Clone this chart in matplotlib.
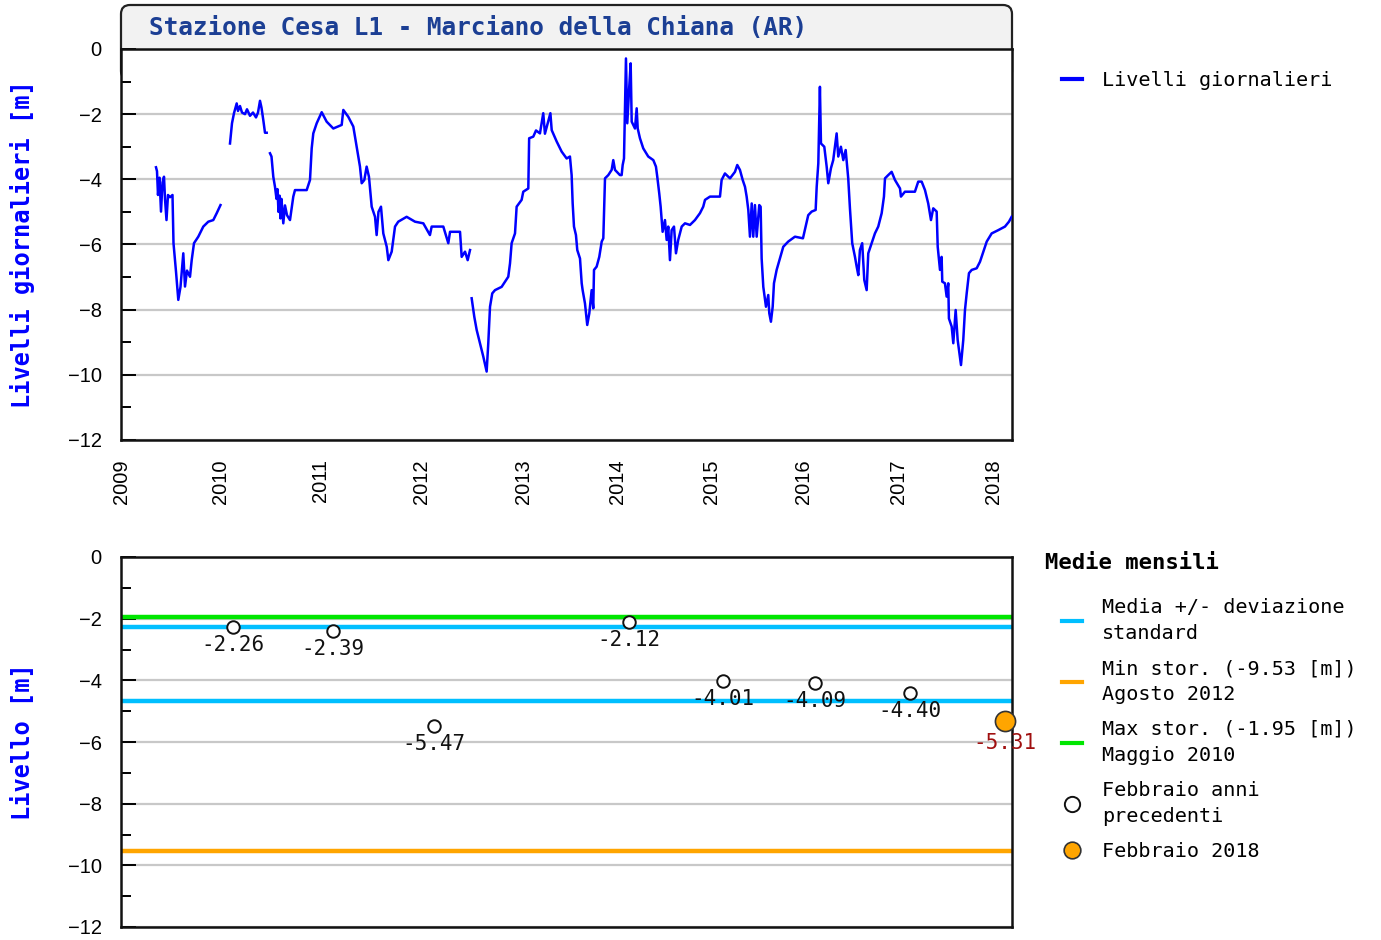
import numpy as np
import matplotlib
matplotlib.use("Agg")
import matplotlib.pyplot as plt
from matplotlib.patches import FancyBboxPatch
from matplotlib.lines import Line2D
from matplotlib.ticker import MultipleLocator
from matplotlib.transforms import IdentityTransform

MONO = "DejaVu Sans Mono"
SANS = "Liberation Sans"

TITLE = "Stazione Cesa L1 - Marciano della Chiana (AR)"

# daily levels (fractional year, metres), NaN = gap in the record
DAY_YEAR = [
    2009.350, 2009.360, 2009.370, 2009.385, 2009.400, 2009.415, 2009.430, 2009.440,
    2009.455, 2009.470, 2009.490, 2009.515, 2009.525, 2009.550, 2009.573, 2009.595,
    2009.623, 2009.640, 2009.660, 2009.690, 2009.707, 2009.730, 2009.773, 2009.823,
    2009.873, 2009.923, 2009.957, 2009.995,
    np.nan,
    2010.090, 2010.110, 2010.130, 2010.157, 2010.170, 2010.190, 2010.210, 2010.240,
    2010.260, 2010.290, 2010.320, 2010.350, 2010.370, 2010.390, 2010.405, 2010.423,
    2010.440, 2010.457,
    np.nan,
    2010.490, 2010.505, 2010.523, 2010.540, 2010.555, 2010.565, 2010.575, 2010.585,
    2010.595, 2010.605, 2010.623, 2010.640, 2010.660, 2010.690, 2010.723, 2010.740,
    2010.857, 2010.890, 2010.907, 2010.923, 2010.957, 2011.007, 2011.056, 2011.122,
    2011.205, 2011.221, 2011.270, 2011.320, 2011.369, 2011.386, 2011.403, 2011.429,
    2011.452, 2011.475, 2011.502, 2011.535, 2011.551, 2011.569, 2011.594, 2011.617,
    2011.651, 2011.667, 2011.700, 2011.733, 2011.765, 2011.848, 2011.931, 2012.013,
    2012.078, 2012.095, 2012.209, 2012.258, 2012.275, 2012.373, 2012.389, 2012.422,
    2012.448, 2012.471,
    np.nan,
    2012.487, 2012.513, 2012.536, 2012.569, 2012.601, 2012.634, 2012.650, 2012.667,
    2012.689, 2012.716, 2012.781, 2012.846, 2012.863, 2012.879, 2012.912, 2012.928,
    2012.977, 2012.993, 2013.046, 2013.055, 2013.099, 2013.128, 2013.170, 2013.205,
    2013.223, 2013.281, 2013.295, 2013.348, 2013.401, 2013.454, 2013.489, 2013.507,
    2013.518, 2013.532, 2013.553, 2013.567, 2013.596, 2013.614, 2013.624, 2013.649,
    2013.673, 2013.695, 2013.720, 2013.737, 2013.745, 2013.773, 2013.801, 2013.827,
    2013.844, 2013.862, 2013.897, 2013.933, 2013.950, 2013.968, 2014.021, 2014.039,
    2014.050, 2014.064, 2014.085, 2014.099, 2014.120, 2014.135, 2014.146, 2014.181,
    2014.199, 2014.210, 2014.234, 2014.269, 2014.322, 2014.376, 2014.404, 2014.418,
    2014.439, 2014.454, 2014.475, 2014.500, 2014.518, 2014.535, 2014.553, 2014.571,
    2014.596, 2014.617, 2014.641, 2014.678, 2014.713, 2014.766, 2014.819, 2014.872,
    2014.907, 2014.926, 2014.979, 2015.087, 2015.105, 2015.141, 2015.196, 2015.250,
    2015.275, 2015.304, 2015.334, 2015.359, 2015.377, 2015.395, 2015.413, 2015.432,
    2015.449, 2015.467, 2015.486, 2015.514, 2015.529, 2015.540, 2015.558, 2015.587,
    2015.612, 2015.623, 2015.641, 2015.660, 2015.674, 2015.703, 2015.739, 2015.775,
    2015.829, 2015.902, 2015.989, 2016.018, 2016.045, 2016.081, 2016.123, 2016.134,
    2016.151, 2016.168, 2016.179, 2016.214, 2016.239, 2016.256, 2016.284, 2016.308,
    2016.344, 2016.361, 2016.389, 2016.414, 2016.439, 2016.466, 2016.484, 2016.508,
    2016.537, 2016.555, 2016.572, 2016.589, 2016.613, 2016.635, 2016.660, 2016.677,
    2016.719, 2016.747, 2016.782, 2016.818, 2016.842, 2016.853, 2016.887, 2016.923,
    2016.958, 2017.011, 2017.021, 2017.063, 2017.168, 2017.203, 2017.239, 2017.274,
    2017.308, 2017.337, 2017.361, 2017.397, 2017.408, 2017.432, 2017.449, 2017.456,
    2017.484, 2017.502, 2017.519, 2017.526, 2017.555, 2017.572, 2017.597, 2017.618,
    2017.632, 2017.653, 2017.677, 2017.695, 2017.713, 2017.737, 2017.766, 2017.818,
    2017.853, 2017.888, 2017.924, 2017.976, 2018.045, 2018.116, 2018.158, 2018.186,
]
DAY_LEVEL = [
    -3.63, -3.75, -4.48, -3.95, -4.99, -4.10, -3.92, -4.60,
    -5.25, -4.48, -4.55, -4.48, -5.96, -6.83, -7.70, -7.30,
    -6.27, -7.29, -6.80, -6.99, -6.48, -5.96, -5.76, -5.45,
    -5.30, -5.25, -5.04, -4.79,
    np.nan,
    -2.90, -2.28, -1.97, -1.67, -1.90, -1.75, -1.95, -2.00,
    -1.85, -2.05, -1.95, -2.10, -1.95, -1.59, -1.80, -2.18,
    -2.57, -2.57,
    np.nan,
    -3.20, -3.30, -3.92, -4.23, -4.60, -4.30, -5.00, -4.50,
    -5.20, -4.60, -5.35, -4.80, -5.10, -5.25, -4.53, -4.33,
    -4.33, -4.02, -3.05, -2.59, -2.28, -1.94, -2.23, -2.44,
    -2.33, -1.87, -2.08, -2.38, -3.30, -3.61, -4.12, -4.02,
    -3.61, -3.92, -4.84, -5.15, -5.71, -5.00, -4.84, -5.66,
    -6.07, -6.48, -6.22, -5.45, -5.30, -5.15, -5.30, -5.35,
    -5.71, -5.45, -5.45, -5.96, -5.61, -5.61, -6.38, -6.22,
    -6.48, -6.17,
    np.nan,
    -7.65, -8.22, -8.62, -9.03, -9.44, -9.90, -9.03, -7.91,
    -7.50, -7.40, -7.30, -6.99, -6.58, -5.96, -5.66, -4.84,
    -4.63, -4.38, -4.28, -2.74, -2.69, -2.50, -2.59, -1.97,
    -2.60, -1.97, -2.49, -2.84, -3.15, -3.36, -3.30, -3.87,
    -4.74, -5.45, -5.71, -6.17, -6.43, -7.19, -7.40, -7.81,
    -8.47, -8.11, -7.40, -7.96, -6.78, -6.68, -6.38, -5.91,
    -5.81, -3.97, -3.87, -3.71, -3.41, -3.71, -3.87, -3.87,
    -3.56, -3.36, -0.29, -2.28, -1.16, -0.44, -2.23, -2.44,
    -1.82, -2.44, -2.74, -3.05, -3.30, -3.41, -3.61, -3.92,
    -4.43, -4.84, -5.61, -5.25, -5.86, -5.45, -6.48, -5.56,
    -5.45, -6.27, -5.86, -5.45, -5.35, -5.40, -5.25, -5.04,
    -4.84, -4.63, -4.53, -4.53, -4.02, -3.82, -3.97, -3.77,
    -3.56, -3.71, -4.02, -4.23, -4.53, -4.94, -5.76, -4.74,
    -5.76, -4.79, -5.76, -4.79, -4.84, -6.43, -7.30, -7.91,
    -7.55, -8.11, -8.37, -7.91, -7.19, -6.78, -6.43, -6.07,
    -5.91, -5.76, -5.81, -5.45, -5.10, -4.99, -4.94, -4.23,
    -3.51, -1.16, -2.90, -3.00, -3.61, -4.12, -3.66, -3.41,
    -2.59, -3.30, -3.00, -3.41, -3.10, -3.97, -4.89, -5.96,
    -6.38, -6.68, -6.94, -6.17, -5.96, -7.09, -7.40, -6.27,
    -5.91, -5.66, -5.45, -5.04, -4.53, -3.97, -3.87, -3.77,
    -4.02, -4.28, -4.53, -4.38, -4.38, -4.07, -4.07, -4.33,
    -4.74, -5.25, -4.89, -4.99, -6.07, -6.78, -6.38, -7.14,
    -7.19, -7.60, -7.19, -8.27, -8.52, -9.03, -8.01, -8.93,
    -9.24, -9.70, -8.93, -8.01, -7.50, -6.88, -6.78, -6.73,
    -6.53, -6.22, -5.91, -5.66, -5.56, -5.45, -5.30, -5.15,
]

YEARS = list(range(2009, 2019))

# February monthly means
FEB_YEARS = [2010, 2011, 2012, 2014, 2015, 2016, 2017]
FEB_VALUES = [-2.26, -2.39, -5.47, -2.12, -4.01, -4.09, -4.40]
CUR_YEAR = 2018
CUR_VALUE = -5.31
MEAN_BAND = [-2.27, -4.67]
MIN_STOR = -9.53
MAX_STOR = -1.95

# the time axis of the original is not uniform: year -> position along the axis
SCALE_YEARS = [2000, 2009, 2010, 2011, 2012, 2013, 2014, 2015, 2016, 2017, 2018, 2019, 2030]
SCALE_POS = [-900, 0, 100, 200, 301, 403, 497, 591, 683, 778, 873, 968, 2060]


def fwd(x):
    return np.interp(x, SCALE_YEARS, SCALE_POS)


def inv(p):
    return np.interp(p, SCALE_POS, SCALE_YEARS)


W, H = 1381, 940
fig = plt.figure(figsize=(W / 100, H / 100), dpi=100)
ax1 = fig.add_axes([121 / W, 1 - 440 / H, 891 / W, 391 / H])
ax2 = fig.add_axes([121 / W, 1 - 927 / H, 891 / W, 370 / H])

blue = "#0000ff"
grid_c = "#c8c8c8"

for ax in (ax1, ax2):
    ax.set_xscale("function", functions=(fwd, inv))
    ax.set_xlim(2009, 2018.19)
    ax.set_ylim(-12, 0)
    ax.yaxis.set_major_locator(MultipleLocator(2))
    ax.yaxis.set_minor_locator(MultipleLocator(1))
    ax.grid(axis="y", which="major", color=grid_c, lw=1.6, zorder=0)
    ax.set_axisbelow(True)
    for s in ax.spines.values():
        s.set_linewidth(1.8)
        s.set_color("#111111")
    ax.tick_params(axis="y", which="major", direction="in", length=11, width=1.4,
                   pad=14, labelsize=14.5)
    ax.tick_params(axis="y", which="minor", direction="in", length=7, width=1.4)
    for t in ax.get_yticklabels():
        t.set_fontfamily(SANS)

# top: daily levels
ax1.plot(DAY_YEAR, DAY_LEVEL, color=blue, lw=1.8, label="Livelli giornalieri", zorder=3)
ax1.set_xticks(YEARS)
ax1.set_xticklabels([str(y) for y in YEARS], rotation=90, family=SANS, fontsize=14.5)
ax1.tick_params(axis="x", length=0, pad=14)
ax1.xaxis.set_minor_locator(plt.NullLocator())
ax1.set_ylabel("Livelli giornalieri [m]", color=blue, family=MONO, fontweight="bold",
               fontsize=17)
ax1.yaxis.set_label_coords(-0.097, 0.5)
leg1 = ax1.legend(loc="upper left", bbox_to_anchor=(1044 / W, 1 - 53 / H),
                  bbox_transform=fig.transFigure, frameon=False, handlelength=1.0,
                  handletextpad=1.0, prop={"family": MONO, "size": 14.5})
for ln in leg1.get_lines():
    ln.set_linewidth(3)

# title box
box = FancyBboxPatch((121, H - 80), 891, 75, boxstyle="round,pad=0,rounding_size=9",
                     transform=IdentityTransform(), facecolor="#f2f2f2",
                     edgecolor="#222222", lw=1.6, zorder=-1)
fig.patches.append(box)
fig.text(149 / W, 1 - 28 / H, TITLE, ha="left", va="center", family=MONO,
         fontweight="bold", fontsize=17.6, color="#1c3f94")

# bottom: monthly means
ax2.set_xticks([])
ax2.xaxis.set_minor_locator(plt.NullLocator())
ax2.axhline(MAX_STOR, color="#00e600", lw=3.2, zorder=2)
for v in MEAN_BAND:
    ax2.axhline(v, color="#00bfff", lw=3.2, zorder=2)
ax2.axhline(MIN_STOR, color="#ffa500", lw=3.2, zorder=2)

feb_x = [y + 0.12 for y in FEB_YEARS]
ax2.plot(feb_x, FEB_VALUES, "o", ms=9, mfc="white", mec="#111111", mew=1.4, zorder=4)
for x, v in zip(feb_x, FEB_VALUES):
    ax2.annotate(f"{v:.2f}", (x, v), xytext=(0, -13), textcoords="offset points",
                 ha="center", va="center", family=MONO, fontsize=15, color="#111111",
                 zorder=5)
cur_x = CUR_YEAR + 0.12
ax2.plot([cur_x], [CUR_VALUE], "o", ms=14.5, mfc="#ffa500", mec="#333333", mew=1.2,
         zorder=4, clip_on=False)
ax2.annotate(f"{CUR_VALUE:.2f}", (cur_x, CUR_VALUE), xytext=(0, -16),
             textcoords="offset points", ha="center", va="center", family=MONO,
             fontsize=15, color="#a01010", zorder=5)

ax2.set_ylabel("Livello [m]", color=blue, family=MONO, fontweight="bold", fontsize=17)
ax2.yaxis.set_label_coords(-0.097, 0.5)

fig.text(1045 / W, 1 - 563 / H, "Medie mensili", ha="left", va="center", family=MONO,
         fontweight="bold", fontsize=16)

handles = [
    Line2D([], [], color="#00bfff", lw=3),
    Line2D([], [], color="#ffa500", lw=3),
    Line2D([], [], color="#00e600", lw=3),
    Line2D([], [], ls="none", marker="o", ms=11, mfc="white", mec="#111111", mew=1.4),
    Line2D([], [], ls="none", marker="o", ms=12, mfc="#ffa500", mec="#333333", mew=1.2),
]
labels = [
    "Media +/- deviazione\nstandard",
    f"Min stor. ({MIN_STOR:.2f} [m])\nAgosto 2012",
    f"Max stor. ({MAX_STOR:.2f} [m])\nMaggio 2010",
    "Febbraio anni\nprecedenti",
    f"Febbraio {CUR_YEAR}",
]
leg2 = ax2.legend(handles, labels, loc="upper left",
                  bbox_to_anchor=(1044 / W, 1 - 580 / H), bbox_transform=fig.transFigure,
                  frameon=False, handlelength=1.0, handletextpad=1.0, labelspacing=0.78,
                  prop={"family": MONO, "size": 14.5})
for t in leg2.get_texts():
    t.set_linespacing(1.48)

fig.savefig("out.png", dpi=100)
